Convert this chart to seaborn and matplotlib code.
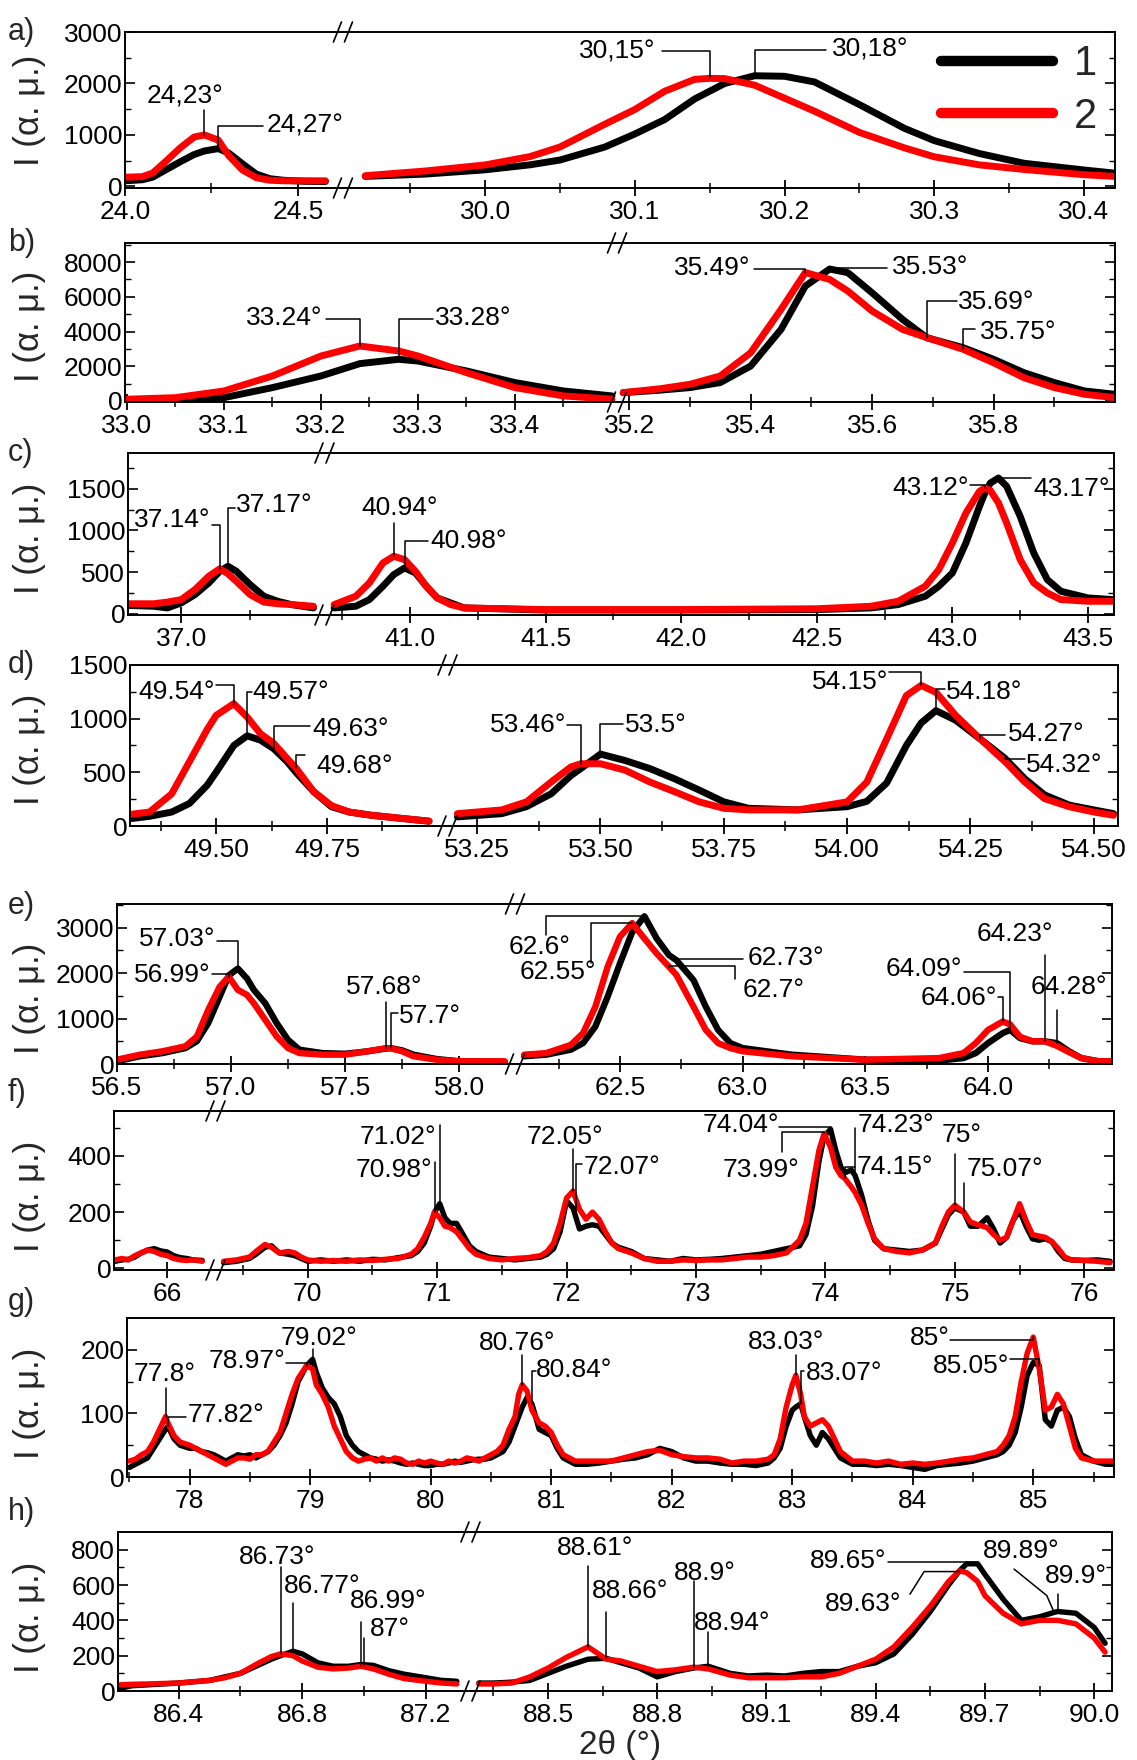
import numpy as np
import pandas as pd
import matplotlib
matplotlib.use("Agg")
import matplotlib.pyplot as plt
import seaborn as sns
from matplotlib import font_manager
from matplotlib.lines import Line2D

# ---------------------------------------------------------------------------
# XRD patterns: 2theta (deg) and intensity (a.u.) of sample 1 (black) and 2 (red)
# Each panel is split into one or two 2theta windows.
# ---------------------------------------------------------------------------

# panel a
a1_x  = [24.00, 24.05, 24.08, 24.12, 24.16, 24.20, 24.23, 24.27, 24.30, 24.34, 24.38, 24.42, 24.46, 24.52, 24.58]
a1_s1 = [110, 130, 180, 330, 480, 620, 690, 735, 650, 440, 240, 150, 120, 100, 95]
a1_s2 = [180, 190, 260, 500, 750, 960, 1000, 900, 600, 320, 170, 120, 110, 110, 110]
a2_x  = [29.92, 29.96, 30.00, 30.03, 30.05, 30.08, 30.10, 30.12, 30.14, 30.15, 30.16, 30.18, 30.20,
         30.22, 30.25, 30.28, 30.30, 30.33, 30.36, 30.40, 30.42]
a2_s1 = [196, 240, 323, 420, 513, 766, 1019, 1300, 1700, 1850, 2000, 2150, 2140,
         2030, 1590, 1130, 890, 640, 450, 320, 260]
a2_s2 = [209, 300, 418, 580, 766, 1209, 1494, 1850, 2080, 2100, 2095, 1968, 1715,
         1462, 1050, 750, 576, 420, 330, 228, 196]

# panel b
b1_x  = [33.00, 33.05, 33.10, 33.15, 33.20, 33.24, 33.28, 33.30, 33.35, 33.40, 33.45, 33.50]
b1_s1 = [30, 40, 190, 770, 1440, 2150, 2400, 2300, 1730, 1060, 575, 290]
b1_s2 = [100, 190, 575, 1440, 2590, 3165, 2880, 2590, 1630, 770, 290, 100]
b2_x  = [35.19, 35.25, 35.30, 35.35, 35.40, 35.45, 35.49, 35.53, 35.56, 35.60, 35.65, 35.69,
         35.75, 35.80, 35.85, 35.90, 35.95, 36.00]
b2_s1 = [480, 620, 770, 1060, 2015, 4125, 6620, 7600, 7390, 6230, 4700, 3645,
         3070, 2400, 1630, 1060, 575, 384]
b2_s2 = [480, 700, 960, 1440, 2780, 5275, 7400, 7000, 6330, 5180, 4125, 3650,
         2975, 2200, 1340, 770, 384, 190]

# panel c
c1_x  = [36.81, 36.90, 36.95, 37.00, 37.05, 37.10, 37.14, 37.17, 37.20, 37.25, 37.30, 37.35, 37.40, 37.48]
c1_s1 = [100, 90, 70, 130, 230, 370, 510, 570, 510, 350, 210, 150, 110, 70]
c1_s2 = [120, 120, 140, 170, 290, 450, 540, 480, 390, 230, 140, 120, 110, 90]
c2_x  = [40.72, 40.80, 40.85, 40.90, 40.94, 40.98, 41.02, 41.06, 41.10, 41.15, 41.20, 41.50, 42.00,
         42.50, 42.70, 42.80, 42.90, 42.95, 43.00, 43.05, 43.10, 43.12, 43.14, 43.17, 43.20, 43.25,
         43.30, 43.35, 43.40, 43.50, 43.59]
c2_s1 = [70, 90, 170, 330, 470, 550, 490, 330, 190, 130, 70, 45, 45,
         50, 70, 110, 210, 330, 490, 850, 1290, 1450, 1570, 1630, 1530, 1170,
         730, 410, 270, 190, 170]
c2_s2 = [110, 210, 370, 610, 690, 650, 510, 330, 190, 110, 70, 50, 50,
         60, 90, 150, 330, 530, 850, 1210, 1470, 1510, 1480, 1330, 1090, 650,
         370, 250, 170, 150, 150]

# panel d
d1_x  = [49.31, 49.35, 49.40, 49.44, 49.48, 49.50, 49.54, 49.57, 49.60, 49.63, 49.66, 49.68,
         49.72, 49.76, 49.80, 49.85, 49.92, 49.98]
d1_s1 = [70, 90, 130, 210, 380, 500, 750, 840, 800, 720, 600, 500, 320, 180, 130, 100, 70, 45]
d1_s2 = [110, 130, 300, 600, 900, 1030, 1140, 1015, 860, 770, 630, 540, 320, 190, 130, 100, 70, 45]
d2_x  = [53.21, 53.30, 53.35, 53.40, 53.44, 53.46, 53.50, 53.55, 53.60, 53.65, 53.70, 53.75, 53.80,
         53.90, 54.00, 54.04, 54.08, 54.12, 54.15, 54.18, 54.22, 54.27, 54.32, 54.36, 54.40, 54.45,
         54.50, 54.54]
d2_s1 = [85, 115, 180, 300, 470, 535, 670, 610, 535, 440, 335, 225, 165,
         150, 180, 230, 400, 750, 960, 1075, 985, 810, 630, 440, 290, 195,
         150, 115]
d2_s2 = [115, 150, 225, 410, 550, 580, 580, 520, 410, 320, 225, 165, 150,
         150, 225, 410, 810, 1215, 1310, 1245, 1030, 810, 600, 410, 255, 180,
         130, 100]

# panel e
e1_x  = [56.50, 56.60, 56.70, 56.80, 56.85, 56.90, 56.95, 56.99, 57.03, 57.07, 57.10, 57.15, 57.20,
         57.25, 57.30, 57.40, 57.50, 57.60, 57.68, 57.70, 57.75, 57.80, 57.90, 58.00, 58.20]
e1_s1 = [60, 170, 240, 350, 500, 900, 1480, 1950, 2100, 1880, 1630, 1335, 900,
         530, 315, 240, 225, 280, 340, 350, 300, 205, 110, 60, 45]
e1_s2 = [95, 205, 280, 390, 605, 1190, 1700, 1920, 1630, 1520, 1335, 970, 605,
         350, 240, 205, 205, 280, 350, 345, 280, 170, 95, 60, 60]
e2_x  = [62.11, 62.20, 62.30, 62.35, 62.40, 62.45, 62.50, 62.55, 62.60, 62.65, 62.70, 62.73, 62.80,
         62.85, 62.90, 62.95, 63.00, 63.20, 63.50, 63.80, 63.90, 63.95, 64.00, 64.06, 64.09, 64.13,
         64.18, 64.23, 64.28, 64.33, 64.38, 64.45, 64.50]
e2_s1 = [170, 205, 315, 460, 825, 1480, 2210, 2900, 3250, 2760, 2395, 2285, 1845,
         1260, 750, 460, 350, 205, 95, 75, 130, 240, 460, 680, 750, 570,
         500, 500, 460, 280, 130, 60, 60]
e2_s2 = [205, 240, 420, 680, 1260, 2140, 2800, 3100, 2760, 2430, 2140, 1960, 1260,
         750, 460, 350, 280, 170, 95, 130, 240, 460, 750, 935, 870, 600,
         500, 500, 400, 260, 130, 60, 60]

# panel f
f1_x  = [65.60, 65.65, 65.70, 65.75, 65.80, 65.85, 65.90, 65.95, 66.00, 66.05, 66.10, 66.15, 66.20, 66.27]
f1_s1 = [25, 30, 32, 40, 55, 65, 70, 62, 58, 45, 38, 35, 30, 28]
f1_s2 = [30, 35, 30, 45, 55, 65, 60, 50, 45, 35, 30, 28, 30, 25]
f2_x  = [69.35, 69.45, 69.55, 69.60, 69.67, 69.72, 69.78, 69.85, 69.90, 69.95,
         70.00, 70.10, 70.20, 70.30, 70.40, 70.50, 70.60, 70.70, 70.80, 70.85,
         70.90, 70.95, 70.98, 71.02, 71.06, 71.10, 71.15, 71.20, 71.25, 71.30,
         71.40, 71.50, 71.60, 71.70, 71.80, 71.85, 71.90, 71.95, 72.00, 72.05,
         72.10, 72.15, 72.20, 72.25, 72.30, 72.35, 72.40, 72.50, 72.60, 72.70,
         72.80, 72.90, 73.00, 73.10, 73.20, 73.30, 73.40, 73.50, 73.60, 73.70,
         73.80, 73.85, 73.90, 73.95, 73.99, 74.04, 74.08, 74.12, 74.15, 74.20,
         74.23, 74.28, 74.33, 74.38, 74.45, 74.55, 74.65, 74.75, 74.85, 74.90,
         74.95, 75.00, 75.07, 75.12, 75.18, 75.25, 75.30, 75.35, 75.40, 75.45,
         75.50, 75.55, 75.60, 75.65, 75.70, 75.75, 75.80, 75.85, 75.90, 76.00,
         76.10, 76.20]
f2_s1 = [20, 25, 35, 50, 75, 80, 55, 50, 45, 35,
         25, 30, 25, 30, 25, 32, 30, 38, 45, 60,
         90, 150, 200, 230, 180, 160, 160, 120, 80, 60,
         40, 35, 30, 35, 40, 50, 70, 130, 240, 215,
         140, 150, 155, 150, 120, 90, 75, 60, 35, 30,
         25, 35, 30, 32, 35, 40, 45, 50, 60, 70,
         80, 120, 220, 380, 470, 495, 420, 360, 340, 350,
         330, 260, 170, 100, 70, 65, 60, 65, 90, 140,
         190, 215, 200, 150, 150, 180, 140, 90, 110, 170,
         205, 150, 105, 100, 105, 95, 60, 35, 30, 28,
         30, 25]
f2_s2 = [25, 30, 40, 60, 85, 75, 55, 60, 55, 40,
         30, 25, 28, 25, 30, 28, 32, 35, 50, 70,
         110, 160, 200, 180, 150, 145, 130, 100, 70, 50,
         35, 30, 35, 38, 45, 60, 90, 160, 250, 275,
         210, 175, 200, 175, 130, 90, 70, 55, 35, 25,
         25, 30, 28, 30, 30, 35, 40, 40, 45, 55,
         100, 160, 290, 420, 480, 430, 360, 330, 320, 290,
         270, 225, 160, 105, 70, 60, 55, 65, 90, 150,
         200, 225, 200, 165, 155, 145, 120, 100, 110, 170,
         230, 170, 120, 115, 110, 95, 70, 40, 30, 28,
         25, 20]

# panel g
g1_x  = [77.50, 77.55, 77.60, 77.65, 77.70, 77.75, 77.80, 77.82, 77.87, 77.92,
         78.00, 78.05, 78.10, 78.15, 78.20, 78.25, 78.30, 78.35, 78.40, 78.45,
         78.50, 78.55, 78.60, 78.65, 78.70, 78.75, 78.80, 78.85, 78.90, 78.97,
         79.02, 79.05, 79.10, 79.15, 79.20, 79.25, 79.30, 79.35, 79.40, 79.45,
         79.50, 79.55, 79.60, 79.65, 79.70, 79.75, 79.80, 79.85, 79.90, 79.95,
         80.00, 80.05, 80.10, 80.15, 80.20, 80.25, 80.30, 80.35, 80.40, 80.45,
         80.50, 80.55, 80.60, 80.65, 80.70, 80.73, 80.76, 80.80, 80.84, 80.90,
         80.95, 81.00, 81.05, 81.10, 81.15, 81.20, 81.30, 81.40, 81.50, 81.60,
         81.70, 81.80, 81.90, 82.00, 82.10, 82.20, 82.30, 82.40, 82.50, 82.60,
         82.70, 82.80, 82.85, 82.90, 82.95, 83.00, 83.03, 83.07, 83.10, 83.15,
         83.20, 83.25, 83.30, 83.35, 83.40, 83.50, 83.60, 83.70, 83.80, 83.90,
         84.00, 84.10, 84.20, 84.30, 84.40, 84.50, 84.60, 84.70, 84.75, 84.80,
         84.85, 84.90, 84.95, 85.00, 85.05, 85.10, 85.15, 85.20, 85.25, 85.30,
         85.35, 85.40, 85.50, 85.60, 85.66]
g1_s1 = [15, 20, 25, 30, 45, 60, 75, 80, 60, 50,
         45, 45, 40, 38, 35, 30, 25, 30, 35, 33,
         35, 30, 35, 40, 50, 65, 85, 115, 150, 175,
         185, 165, 140, 125, 115, 95, 65, 50, 40, 35,
         30, 28, 25, 27, 25, 22, 20, 22, 20, 18,
         18, 20, 20, 22, 25, 23, 25, 27, 28, 28,
         30, 35, 40, 55, 80, 95, 110, 125, 115, 75,
         70, 65, 45, 30, 25, 20, 20, 22, 25, 28,
         30, 35, 45, 40, 30, 25, 25, 22, 20, 20,
         18, 22, 30, 45, 80, 105, 110, 115, 95, 65,
         50, 70, 60, 45, 30, 20, 20, 18, 20, 18,
         15, 12, 18, 20, 22, 25, 30, 35, 40, 50,
         70, 110, 160, 180, 175, 90, 80, 105, 110, 95,
         60, 35, 25, 20, 20]
g1_s2 = [25, 28, 35, 40, 55, 75, 95, 85, 65, 55,
         50, 45, 40, 35, 30, 25, 20, 25, 30, 30,
         28, 35, 35, 40, 55, 70, 100, 130, 155, 175,
         170, 145, 130, 110, 80, 60, 40, 30, 25, 28,
         30, 25, 30, 25, 30, 28, 22, 20, 25, 22,
         25, 22, 20, 25, 22, 25, 30, 28, 25, 30,
         35, 40, 50, 75, 95, 130, 145, 135, 105, 85,
         80, 70, 50, 35, 30, 25, 25, 25, 25, 30,
         35, 40, 42, 35, 32, 30, 30, 28, 22, 25,
         25, 28, 35, 60, 110, 145, 160, 130, 95, 80,
         85, 90, 80, 60, 40, 25, 25, 22, 25, 20,
         22, 20, 22, 25, 28, 30, 35, 40, 50, 65,
         95, 150, 195, 220, 170, 105, 110, 130, 115, 80,
         45, 30, 25, 25, 25]

# panel h
h1_x  = [86.21, 86.25, 86.30, 86.40, 86.50, 86.55, 86.60, 86.65, 86.70, 86.73, 86.77, 86.80,
         86.85, 86.90, 86.95, 86.99, 87.03, 87.08, 87.13, 87.20, 87.25, 87.30]
h1_s1 = [15, 30, 35, 45, 60, 80, 100, 140, 180, 200, 225, 210,
         160, 140, 140, 150, 145, 115, 95, 75, 60, 55]
h1_s2 = [35, 38, 40, 45, 60, 75, 100, 150, 195, 210, 200, 170,
         135, 125, 130, 140, 125, 95, 70, 55, 45, 40]
h2_x  = [88.31, 88.35, 88.40, 88.45, 88.50, 88.55, 88.61, 88.66, 88.70, 88.75, 88.80, 88.85, 88.90,
         88.94, 89.00, 89.05, 89.10, 89.15, 89.20, 89.25, 89.30, 89.35, 89.40, 89.45, 89.50, 89.55,
         89.60, 89.63, 89.65, 89.68, 89.70, 89.75, 89.80, 89.85, 89.89, 89.90, 89.95, 90.00, 90.03]
h2_s1 = [45, 45, 50, 60, 100, 140, 180, 185, 160, 130, 80, 110, 130,
         140, 100, 85, 90, 85, 100, 110, 110, 140, 160, 210, 320, 450,
         600, 680, 720, 720, 660, 520, 400, 420, 445, 450, 440, 360, 270]
h2_s2 = [40, 40, 45, 80, 130, 190, 250, 180, 170, 140, 110, 120, 135,
         125, 90, 75, 75, 75, 80, 80, 100, 140, 180, 250, 360, 480,
         620, 680, 670, 620, 540, 440, 380, 400, 400, 400, 380, 300, 220]

# ---------------------------------------------------------------------------
# axis ticks
# ---------------------------------------------------------------------------
a_xt = [24.0, 24.5, 30.0, 30.1, 30.2, 30.3, 30.4]
a_xl = ["24.0", "24.5", "30.0", "30.1", "30.2", "30.3", "30.4"]
a_xm = [24.25, 29.95, 30.05, 30.15, 30.25, 30.35]
b_xt = [33.0, 33.1, 33.2, 33.3, 33.4, 35.2, 35.4, 35.6, 35.8]
b_xl = ["33.0", "33.1", "33.2", "33.3", "33.4", "35.2", "35.4", "35.6", "35.8"]
b_xm = [33.05, 33.15, 33.25, 33.35, 33.45, 35.3, 35.5, 35.7, 35.9]
c_xt = [37.0, 41.0, 41.5, 42.0, 42.5, 43.0, 43.5]
c_xl = ["37.0", "41.0", "41.5", "42.0", "42.5", "43.0", "43.5"]
c_xm = [37.25, 40.75, 41.25, 41.75, 42.25, 42.75, 43.25]
d_xt = [49.50, 49.75, 53.25, 53.50, 53.75, 54.00, 54.25, 54.50]
d_xl = ["49.50", "49.75", "53.25", "53.50", "53.75", "54.00", "54.25", "54.50"]
d_xm = [49.375, 49.625, 49.875, 53.375, 53.625, 53.875, 54.125, 54.375]
e_xt = [56.5, 57.0, 57.5, 58.0, 62.5, 63.0, 63.5, 64.0]
e_xl = ["56.5", "57.0", "57.5", "58.0", "62.5", "63.0", "63.5", "64.0"]
e_xm = [56.75, 57.25, 57.75, 62.25, 62.75, 63.25, 63.75, 64.25]
f_xt = [66, 70, 71, 72, 73, 74, 75, 76]
f_xl = ["66", "70", "71", "72", "73", "74", "75", "76"]
f_xm = [69.5, 70.5, 71.5, 72.5, 73.5, 74.5, 75.5]
g_xt = [78, 79, 80, 81, 82, 83, 84, 85]
g_xl = ["78", "79", "80", "81", "82", "83", "84", "85"]
g_xm = [77.5, 78.5, 79.5, 80.5, 81.5, 82.5, 83.5, 84.5, 85.5]
h_xt = [86.4, 86.8, 87.2, 88.5, 88.8, 89.1, 89.4, 89.7, 90.0]
h_xl = ["86.4", "86.8", "87.2", "88.5", "88.8", "89.1", "89.4", "89.7", "90.0"]
h_xm = [86.6, 87.0, 88.35, 88.65, 88.95, 89.25, 89.55, 89.85]

a_yt = [0, 1000, 2000, 3000]
b_yt = [0, 2000, 4000, 6000, 8000]
c_yt = [0, 500, 1000, 1500]
d_yt = [0, 500, 1000, 1500]
e_yt = [0, 1000, 2000, 3000]
f_yt = [0, 200, 400]
g_yt = [0, 100, 200]
h_yt = [0, 200, 400, 600, 800]

# ---------------------------------------------------------------------------
# peak labels: text, sample, peak 2theta, leader vertices, text x, text y, alignment
# ---------------------------------------------------------------------------
a_notes = [
    ("24,23°", 2, 24.23, [(24.23, 1490)], 24.175, 1740, "center"),
    ("24,27°", 1, 24.27, [(24.27, 1180), (24.40, 1180)], 24.41, 1180, "left"),
    ("30,15°", 2, 30.15, [(30.15, 2630), (30.118, 2630)], 30.114, 2630, "right"),
    ("30,18°", 1, 30.18, [(30.18, 2660), (30.228, 2660)], 30.232, 2660, "left"),
]
b_notes = [
    ("33.24°", 2, 33.24, [(33.24, 4700), (33.205, 4700)], 33.202, 4800, "right"),
    ("33.28°", 1, 33.28, [(33.28, 4700), (33.315, 4700)], 33.318, 4800, "left"),
    ("35.49°", 2, 35.49, [(35.49, 7580), (35.405, 7580)], 35.40, 7650, "right"),
    ("35.53°", 1, 35.53, [(35.53, 7680), (35.625, 7680)], 35.632, 7700, "left"),
    ("35.69°", 1, 35.69, [(35.69, 5750), (35.74, 5750)], 35.742, 5700, "left"),
    ("35.75°", 2, 35.75, [(35.75, 4125), (35.77, 4125)], 35.777, 3950, "left"),
]
c_notes = [
    ("37.14°", 2, 37.14, [(37.14, 1060), (37.11, 1060)], 37.105, 1130, "right"),
    ("37.17°", 1, 37.17, [(37.17, 1270), (37.195, 1270)], 37.20, 1310, "left"),
    ("40.94°", 2, 40.94, [(40.94, 1090)], 40.96, 1270, "center"),
    ("40.98°", 1, 40.98, [(40.98, 870), (41.065, 870)], 41.075, 870, "left"),
    ("43.12°", 2, 43.12, [(43.12, 1550), (43.065, 1550)], 43.06, 1510, "right"),
    ("43.17°", 1, 43.17, [(43.17, 1625), (43.29, 1625)], 43.30, 1500, "left"),
]
d_notes = [
    ("49.54°", 2, 49.54, [(49.54, 1310), (49.50, 1310)], 49.497, 1250, "right"),
    ("49.57°", 1, 49.57, [(49.57, 1250), (49.58, 1250)], 49.582, 1250, "left"),
    ("49.63°", 1, 49.63, [(49.63, 930), (49.712, 930)], 49.716, 906, "left"),
    ("49.68°", 2, 49.68, [(49.68, 660), (49.70, 660)], 49.725, 560, "left"),
    ("53.46°", 2, 53.46, [(53.46, 943), (53.432, 943)], 53.43, 937, "right"),
    ("53.5°", 1, 53.50, [(53.50, 952), (53.545, 952)], 53.55, 937, "left"),
    ("54.15°", 2, 54.15, [(54.15, 1432), (54.085, 1432)], 54.083, 1339, "right"),
    ("54.18°", 1, 54.18, [(54.18, 1277), (54.198, 1277)], 54.20, 1246, "left"),
    ("54.27°", 2, 54.27, [(54.27, 844), (54.32, 844)], 54.325, 860, "left"),
    ("54.32°", 1, 54.32, [(54.32, 628), (54.36, 628)], 54.362, 566, "left"),
]
e_notes = [
    ("57.03°", 1, 57.03, [(57.03, 2700), (56.94, 2700)], 56.93, 2760, "right"),
    ("56.99°", 2, 56.99, [(56.99, 1970), (56.915, 1970)], 56.91, 1956, "right"),
    ("57.68°", 2, 57.68, [(57.68, 1372)], 57.67, 1700, "center"),
    ("57.7°", 1, 57.70, [(57.70, 1117), (57.73, 1117)], 57.735, 1050, "left"),
    ("62.6°", 1, 62.60, [(62.20, 3250), (62.20, 2840)], 62.174, 2577, "center"),
    ("62.55°", 2, 62.55, [(62.382, 3100), (62.382, 2220)], 62.247, 2030, "center"),
    ("62.73°", 1, 62.73, [(62.73, 2306), (63.0, 2306)], 63.02, 2340, "left"),
    ("62.7°", 2, 62.70, [(62.70, 2153), (62.97, 2153), (62.97, 1880)], 63.0, 1628, "left"),
    ("64.09°", 1, 64.09, [(64.09, 2030), (63.90, 2030)], 63.895, 2100, "right"),
    ("64.06°", 2, 64.06, [(64.06, 1480), (64.04, 1480)], 64.035, 1445, "right"),
    ("64.23°", 2, 64.23, [(64.23, 2390)], 64.11, 2870, "center"),
    ("64.28°", 1, 64.28, [(64.28, 1190)], 64.33, 1700, "center"),
]
f_notes = [
    ("71.02°", 1, 71.02, [(71.02, 510)], 70.995, 467, "right"),
    ("70.98°", 2, 70.98, [(70.98, 380)], 70.965, 349, "right"),
    ("72.05°", 2, 72.05, [(72.05, 426)], 71.99, 467, "center"),
    ("72.07°", 1, 72.07, [(72.07, 373), (72.12, 373)], 72.13, 361, "left"),
    ("74.04°", 1, 74.04, [(74.04, 503), (73.645, 503)], 73.64, 509, "right"),
    ("73.99°", 2, 73.99, [(73.99, 485), (73.662, 485), (73.662, 414)], 73.50, 349, "center"),
    ("74.23°", 1, 74.23, [(74.23, 500)], 74.25, 509, "left"),
    ("74.15°", 2, 74.15, [(74.15, 361), (74.23, 361)], 74.24, 361, "left"),
    ("75°", 2, 75.00, [(75.00, 408)], 75.05, 473, "center"),
    ("75.07°", 1, 75.07, [(75.07, 302)], 75.09, 355, "left"),
]
g_notes = [
    ("77.8°", 2, 77.80, [(77.80, 140)], 77.79, 162, "center"),
    ("77.82°", 1, 77.82, [(77.82, 95), (77.97, 95)], 77.98, 97, "left"),
    ("78.97°", 2, 78.97, [(78.97, 179), (78.80, 179)], 78.795, 182, "right"),
    ("79.02°", 1, 79.02, [(79.02, 201)], 79.07, 218, "center"),
    ("80.76°", 2, 80.76, [(80.76, 192)], 80.72, 210, "center"),
    ("80.84°", 1, 80.84, [(80.84, 166), (80.87, 166)], 80.875, 168, "left"),
    ("83.03°", 2, 83.03, [(83.03, 192)], 82.95, 213, "center"),
    ("83.07°", 1, 83.07, [(83.07, 166), (83.10, 166)], 83.11, 163, "left"),
    ("85°", 2, 85.00, [(85.00, 215), (84.31, 215)], 84.305, 218, "right"),
    ("85.05°", 1, 85.05, [(85.05, 186), (84.81, 186)], 84.80, 174, "right"),
]
h_notes = [
    ("86.73°", 2, 86.73, [(86.73, 700)], 86.72, 760, "center"),
    ("86.77°", 1, 86.77, [(86.77, 500)], 86.866, 595, "center"),
    ("86.99°", 2, 86.99, [(86.99, 390)], 87.077, 511, "center"),
    ("87°", 1, 87.00, [(87.00, 300)], 87.02, 351, "left"),
    ("88.61°", 2, 88.61, [(88.61, 708)], 88.628, 811, "center"),
    ("88.66°", 1, 88.66, [(88.66, 445)], 88.725, 567, "center"),
    ("88.9°", 2, 88.90, [(88.90, 620)], 88.93, 670, "center"),
    ("88.94°", 1, 88.94, [(88.94, 335)], 89.005, 385, "center"),
    ("89.65°", 1, 89.65, [(89.65, 730), (89.435, 730)], 89.43, 736, "right"),
    ("89.63°", 2, 89.63, [(89.63, 676), (89.533, 676), (89.494, 548)], 89.365, 492, "center"),
    ("89.89°", 1, 89.89, [(89.87, 540), (89.78, 690)], 89.80, 792, "center"),
    ("89.9°", 1, 89.90, [(89.90, 548)], 89.95, 652, "center"),
]

# ---------------------------------------------------------------------------
# layout: axes boxes in pixels (left, top, right, bottom), broken-axis knots
# ---------------------------------------------------------------------------
PANELS = [
    dict(tag="a)", segs=[(a1_x, a1_s1, a1_s2), (a2_x, a2_s1, a2_s2)], box=(125, 32, 1115, 188),
         knots=[24.0, 24.616, 29.9085, 30.4207], frac=[0, 0.215, 0.2253, 1],
         ylim=(-30, 3000), yt=a_yt, ymin=500, xt=a_xt, xl=a_xl, xm=a_xm, notes=a_notes, lw=5.0,
         tag_dy=0, ylab_dy=0),
    dict(tag="b)", segs=[(b1_x, b1_s1, b1_s2), (b2_x, b2_s1, b2_s2)], box=(125, 243, 1115, 402),
         knots=[32.998, 33.5, 35.188, 36.0], frac=[0, 0.4919, 0.5020, 1],
         ylim=(-60, 9100), yt=b_yt, ymin=1000, xt=b_xt, xl=b_xl, xm=b_xm, notes=b_notes, lw=5.0,
         tag_dy=0, ylab_dy=4),
    dict(tag="c)", segs=[(c1_x, c1_s1, c1_s2), (c2_x, c2_s1, c2_s2)], box=(128, 453, 1114, 615),
         knots=[36.807, 37.50, 40.705, 43.596], frac=[0, 0.1937, 0.2049, 1],
         ylim=(-15, 1930), yt=c_yt, ymin=250, xt=c_xt, xl=c_xl, xm=c_xm, notes=c_notes, lw=5.0,
         tag_dy=0, ylab_dy=4),
    dict(tag="d)", segs=[(d1_x, d1_s1, d1_s2), (d2_x, d2_s1, d2_s2)], box=(130, 665, 1118, 826),
         knots=[49.306, 50.007, 53.203, 54.549], frac=[0, 0.3148, 0.3279, 1],
         ylim=(0, 1500), yt=d_yt, ymin=250, xt=d_xt, xl=d_xl, xm=d_xm, notes=d_notes, lw=5.0,
         tag_dy=0, ylab_dy=4),
    dict(tag="e)", segs=[(e1_x, e1_s1, e1_s2), (e2_x, e2_s1, e2_s2)], box=(117, 904, 1112, 1064),
         knots=[56.5, 58.21, 62.105, 64.505], frac=[0, 0.392, 0.408, 1],
         ylim=(0, 3520), yt=e_yt, ymin=500, xt=e_xt, xl=e_xl, xm=e_xm, notes=e_notes, lw=4.6,
         tag_dy=2, ylab_dy=14),
    dict(tag="f)", segs=[(f1_x, f1_s1, f1_s2), (f2_x, f2_s1, f2_s2)], box=(114, 1111, 1114, 1270),
         knots=[65.59, 66.33, 69.33, 76.23], frac=[0, 0.096, 0.107, 1],
         ylim=(-6, 560), yt=f_yt, ymin=100, xt=f_xt, xl=f_xl, xm=f_xm, notes=f_notes, lw=3.9,
         tag_dy=-18, ylab_dy=6),
    dict(tag="g)", segs=[(g1_x, g1_s1, g1_s2)], box=(127, 1318, 1114, 1477),
         knots=[77.48, 85.67], frac=[0, 1],
         ylim=(0, 250), yt=g_yt, ymin=50, xt=g_xt, xl=g_xl, xm=g_xm, notes=g_notes, lw=3.9,
         tag_dy=-16, ylab_dy=6),
    dict(tag="h)", segs=[(h1_x, h1_s1, h1_s2), (h2_x, h2_s1, h2_s2)], box=(118, 1532, 1112, 1691),
         knots=[86.204, 87.323, 88.305, 90.049], frac=[0, 0.348, 0.3612, 1],
         ylim=(0, 900), yt=h_yt, ymin=100, xt=h_xt, xl=h_xl, xm=h_xm, notes=h_notes, lw=3.9,
         tag_dy=-20, ylab_dy=6),
]

W_PX, H_PX = 1137, 1760
SAMPLE_COLORS = {"1": "black", "2": "red"}

sns.set_theme(style="ticks")
available = {f.name for f in font_manager.fontManager.ttflist}
NARROW = "Liberation Sans Narrow" if "Liberation Sans Narrow" in available else "Liberation Sans"
plt.rcParams["font.family"] = [NARROW, "DejaVu Sans"]
plt.rcParams["axes.linewidth"] = 1.4
plt.rcParams["axes.edgecolor"] = "black"
plt.rcParams["xtick.color"] = "black"
plt.rcParams["ytick.color"] = "black"

TICK_FS = 19
NOTE_FS = 19


def piecewise_scale(kx, kf):
    kx = np.asarray(kx, float)
    kf = np.asarray(kf, float)

    def _map(v, src, dst):
        v = np.asarray(v, float)
        out = np.interp(v, src, dst)
        s0 = (dst[1] - dst[0]) / (src[1] - src[0])
        s1 = (dst[-1] - dst[-2]) / (src[-1] - src[-2])
        out = np.where(v < src[0], dst[0] + (v - src[0]) * s0, out)
        out = np.where(v > src[-1], dst[-1] + (v - src[-1]) * s1, out)
        return out

    return (lambda v: _map(v, kx, kf)), (lambda v: _map(v, kf, kx))


def panel_frame(segs):
    rows = []
    for k, (xs, s1, s2) in enumerate(segs):
        assert len(xs) == len(s1) == len(s2)
        for label, ys in (("1", s1), ("2", s2)):
            rows.append(pd.DataFrame({"x": xs, "I": ys, "sample": label, "seg": k}))
    return pd.concat(rows, ignore_index=True)


fig = plt.figure(figsize=(W_PX / 100, H_PX / 100), dpi=100)

for p in PANELS:
    L, T, R, B = p["box"]
    ax = fig.add_axes([L / W_PX, 1 - B / H_PX, (R - L) / W_PX, (B - T) / H_PX])
    fwd, inv = piecewise_scale(p["knots"], p["frac"])
    ax.set_xscale("function", functions=(fwd, inv))

    df = panel_frame(p["segs"])
    sns.lineplot(data=df, x="x", y="I", hue="sample", units="seg", estimator=None, sort=False,
                 palette=SAMPLE_COLORS, hue_order=["1", "2"], linewidth=p["lw"],
                 legend=False, ax=ax)

    ax.set_xlim(p["knots"][0], p["knots"][-1])
    ax.set_ylim(*p["ylim"])
    ax.set_xlabel("")
    ax.set_ylabel("")

    ax.set_xticks(p["xt"])
    ax.set_xticklabels(p["xl"])
    ax.set_xticks(p["xm"], minor=True)
    ax.set_yticks(p["yt"])
    ax.set_yticklabels([str(v) for v in p["yt"]])
    ymin_ticks = np.arange(p["ymin"], p["ylim"][1], 2 * p["ymin"])
    ax.set_yticks(ymin_ticks, minor=True)

    ax.tick_params(axis="x", which="major", direction="inout", length=11, width=1.3,
                   labelsize=TICK_FS, pad=3, top=False)
    ax.tick_params(axis="x", which="minor", direction="inout", length=7, width=1.1, top=False)
    ax.tick_params(axis="y", which="major", direction="in", length=7, width=1.2,
                   labelsize=TICK_FS, pad=2, left=True, right=True)
    ax.tick_params(axis="y", which="minor", direction="in", length=4, width=1.0,
                   left=True, right=True)
    for sp in ax.spines.values():
        sp.set_visible(True)
        sp.set_linewidth(1.4)

    # break marks on the top and bottom spines
    if len(p["frac"]) == 4:
        bx = 0.5 * (p["frac"][1] + p["frac"][2])
        aw, ah = R - L, B - T
        sx, sy, dx = 4.0 / aw, 10.0 / ah, 5.5 / aw
        for yb in (0.0, 1.0):
            for off in (-dx, dx):
                ax.plot([bx + off - sx, bx + off + sx], [yb - sy, yb + sy], transform=ax.transAxes,
                        color="black", lw=1.2, clip_on=False, zorder=6)

    # peak labels with leader lines
    for text, smp, xv, path, tx, ty, ha in p["notes"]:
        xs_all = np.concatenate([np.asarray(s[0], float) for s in p["segs"]])
        ys_all = np.concatenate([np.asarray(s[smp], float) for s in p["segs"]])
        y0 = float(np.interp(xv, xs_all, ys_all))
        lx = [xv] + [q[0] for q in path]
        ly = [y0] + [q[1] for q in path]
        ax.plot(lx, ly, color="black", lw=1.1, zorder=7, clip_on=False)
        ax.text(tx, ty, text, ha=ha, va="center", fontsize=NOTE_FS, color="black", zorder=8)

    if p["tag"] == "a)":
        handles = [Line2D([], [], color="black", lw=7.5), Line2D([], [], color="red", lw=7.5)]
        ax.legend(handles, ["1", "2"], loc="upper right", bbox_to_anchor=(0.982, 0.92),
                  frameon=False, fontsize=30, handlelength=2.7, handletextpad=0.5,
                  labelspacing=0.3, borderpad=0.0, borderaxespad=0.0)

    # panel letter and y-axis title
    fig.text(8 / W_PX, 1 - (T + p["tag_dy"]) / H_PX, p["tag"], ha="left", va="center",
             fontsize=22)
    fig.text(30 / W_PX, 1 - ((T + B) / 2 + p["ylab_dy"]) / H_PX, "I (α. μ.)", rotation=90,
             ha="center", va="center", fontsize=25, family=["Liberation Sans", "DejaVu Sans"])

fig.text(620 / W_PX, 1 - 1745 / H_PX, "2θ (°)", ha="center", va="center", fontsize=24,
         family=["Liberation Sans", "DejaVu Sans"])

fig.savefig("out.png", dpi=100)
